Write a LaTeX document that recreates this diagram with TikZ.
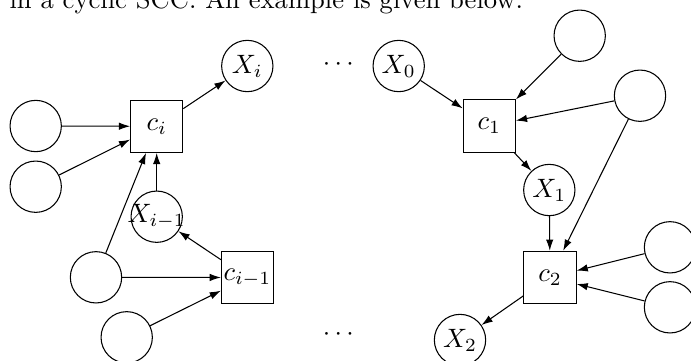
\documentclass[tikz,border=0pt]{standalone}
\usetikzlibrary{arrows.meta}
\begin{document}
\begin{tikzpicture}[x=0.376pt,y=-0.376pt,
  var/.style={circle,draw,minimum size=19.3pt,inner sep=0pt,font=\normalsize},
  fac/.style={rectangle,draw,minimum size=19.6pt,inner sep=0pt,font=\normalsize},
  arr/.style={-{Latex[length=4.2pt,width=2.8pt]}}]
\useasboundingbox (0,0) rectangle (691,360);
\clip (0,0) rectangle (691,360);
\node[anchor=base west,inner sep=0pt,font=\fontsize{10}{12}\selectfont] (txt) at (9,8) {in a cyclic SCC. An example is given below.};
% left part
\node[var] (l1) at (35.7,126) {};
\node[var] (l2) at (35.7,186.7) {};
\node[fac] (ci) at (156.7,126.3) {$c_i$};
\node[var] (xi) at (247.3,66) {$X_i$};
\node[var] (xim) at (156.7,216.7) {\makebox[0pt]{$X_{i-1}$}};
\node[fac] (cim) at (247.5,277.5) {\makebox[0pt]{$c_{i-1}$}};
\node[var] (b1) at (96,277.3) {};
\node[var] (b2) at (126.7,337.3) {};
\node[inner sep=0pt] (d1) at (338.3,65) {$\cdots$};
\node[inner sep=0pt] (d2) at (338.3,335) {$\cdots$};
% right part
\node[var] (x0) at (398.7,66) {$X_0$};
\node[fac] (c1) at (489.3,126) {$c_1$};
\node[var] (tr) at (579.7,35.7) {};
\node[var] (r2) at (640,95.7) {};
\node[var] (x1) at (549.3,190) {$X_1$};
\node[fac] (c2) at (550,277.3) {$c_2$};
\node[var] (r3) at (670,247.3) {};
\node[var] (r4) at (670,307.3) {};
\node[var] (x2) at (460,340) {$X_2$};
% edges
\draw[arr] (l1) -- (ci);
\draw[arr] (l2) -- (ci);
\draw[arr] (b1) -- (ci);
\draw[arr] (xim) -- (ci);
\draw[arr] (ci) -- (xi);
\draw[arr] (cim) -- (xim);
\draw[arr] (b1) -- (cim);
\draw[arr] (b2) -- (cim);
\draw[arr] (x0) -- (c1);
\draw[arr] (tr) -- (c1);
\draw[arr] (r2) -- (c1);
\draw[arr] (c1) -- (x1);
\draw[arr] (x1) -- (c2);
\draw[arr] (r2) -- (c2);
\draw[arr] (r3) -- (c2);
\draw[arr] (r4) -- (c2);
\draw[arr] (c2) -- (x2);
\end{tikzpicture}
\end{document}
